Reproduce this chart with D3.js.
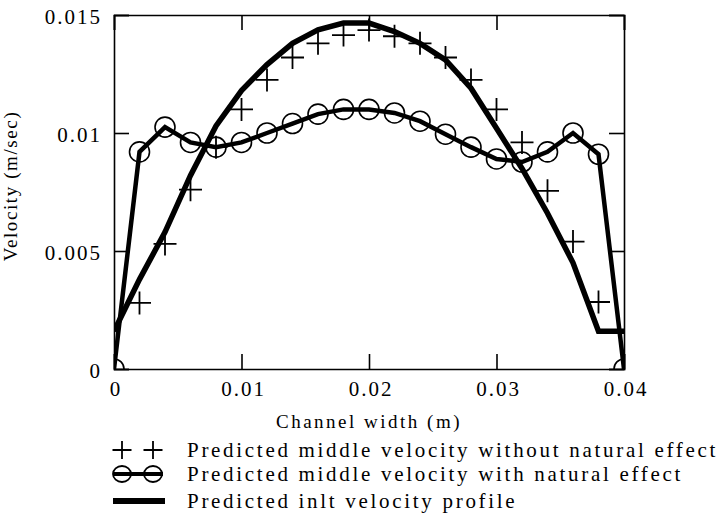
<!DOCTYPE html>
<html>
<head>
<meta charset="utf-8">
<script src="https://cdn.jsdelivr.net/npm/d3@7"></script>
</head>
<body style="margin:0">
<div class="plot"></div>
<script>
// channel width positions (m)
const channelX = [0, 0.002, 0.004, 0.006, 0.008, 0.010, 0.012, 0.014, 0.016, 0.018, 0.020,
    0.022, 0.024, 0.026, 0.028, 0.030, 0.032, 0.034, 0.036, 0.038, 0.040];
// predicted middle velocity without natural effect (+ markers)
const withoutNatural = [null, 0.0028, 0.0053, 0.0076, 0.0094, 0.0110, 0.01225, 0.0132, 0.0138, 0.01415, 0.01436,
    0.0141, 0.0138, 0.0132, 0.01225, 0.0110, 0.0096, 0.00755, 0.0054, 0.00284, null];
// predicted middle velocity with natural effect (circles)
const withNatural = [0, 0.0092, 0.01025, 0.0096, 0.0094, 0.0096, 0.0100, 0.0104, 0.0108, 0.0110, 0.0110,
    0.01085, 0.0105, 0.00995, 0.0094, 0.0089, 0.00877, 0.0092, 0.0100, 0.0091, 0];
// predicted inlet velocity profile (thick line)
const inletProfile = [0.0016, 0.0038, 0.0058, 0.0082, 0.0103, 0.0118, 0.0129, 0.0138, 0.01437, 0.01466, 0.01466,
    0.0143, 0.0138, 0.0131, 0.0119, 0.0102, 0.0085, 0.0066, 0.0045, 0.0016, 0.0016];

const xTicks = [0, 0.01, 0.02, 0.03, 0.04];
const xTickLabels = ["0", "0.01", "0.02", "0.03", "0.04"];
const yTicks = [0, 0.005, 0.01, 0.015];
const yTickLabels = ["0", "0.005", "0.01", "0.015"];
const legendLabels = [
    "Predicted middle velocity without natural effect",
    "Predicted middle velocity with natural effect",
    "Predicted inlt velocity profile"
];

const width = 724,
    height = 519,
    margin = { top: 15, left: 114 },
    innerWidth = 624 - margin.left,
    innerHeight = 369 - margin.top;

const root = d3.select(".plot").append("svg")
    .attr("width", width)
    .attr("height", height);

const svg = root.append("g")
    .attr("transform", "translate(" + margin.left + "," + margin.top + ")");

const xScale = d3.scaleLinear().domain([0, 0.04]).range([0, innerWidth]);
const yScale = d3.scaleLinear().domain([0, 0.015]).range([innerHeight, 0]);

svg.append("clipPath").attr("id", "clip")
    .append("rect").attr("width", innerWidth).attr("height", innerHeight);

const plot = svg.append("g").attr("clip-path", "url(#clip)");

const profileLine = d3.line()
    .x((d, i) => xScale(channelX[i]))
    .y(d => yScale(d));

// inlet profile
plot.append("path")
    .datum(inletProfile)
    .attr("d", profileLine)
    .attr("fill", "none")
    .attr("stroke", "#000")
    .attr("stroke-width", 5.5);

// with natural effect: line + circles
plot.append("path")
    .datum(withNatural)
    .attr("d", profileLine)
    .attr("fill", "none")
    .attr("stroke", "#000")
    .attr("stroke-width", 4.5);

plot.append("g").selectAll("circle")
    .data(withNatural)
    .enter().append("circle")
    .attr("cx", (d, i) => xScale(channelX[i]))
    .attr("cy", d => yScale(d))
    .attr("r", 10)
    .attr("fill", "none")
    .attr("stroke", "#000")
    .attr("stroke-width", 1.6);

// without natural effect: plus markers
const plusPts = withoutNatural.map((v, i) => [channelX[i], v]).filter(p => p[1] !== null);
plot.append("g").selectAll("path")
    .data(plusPts)
    .enter().append("path")
    .attr("d", p => {
        const cx = xScale(p[0]), cy = yScale(p[1]), a = 11.5;
        return "M" + (cx - a) + "," + cy + "H" + (cx + a) + "M" + cx + "," + (cy - a) + "V" + (cy + a);
    })
    .attr("stroke", "#000")
    .attr("stroke-width", 1.8);

// axes, ticks inward and mirrored on all four sides
const tickLen = 15;
const xAxis = d3.axisBottom(xScale).tickValues(xTicks).tickSize(-tickLen).tickFormat("");
const xAxisTop = d3.axisTop(xScale).tickValues(xTicks).tickSize(-tickLen).tickFormat("");
const yAxis = d3.axisLeft(yScale).tickValues(yTicks).tickSize(-tickLen).tickFormat("");
const yAxisRight = d3.axisRight(yScale).tickValues(yTicks).tickSize(-tickLen).tickFormat("");

svg.append("g").attr("transform", "translate(0," + innerHeight + ")").call(xAxis);
svg.append("g").call(xAxisTop);
svg.append("g").call(yAxis);
svg.append("g").attr("transform", "translate(" + innerWidth + ",0)").call(yAxisRight);

svg.selectAll(".domain").attr("stroke-width", 1.6).attr("stroke", "#000");
svg.selectAll(".tick line").attr("stroke-width", 1.6).attr("stroke", "#000");

function serifText(sel, size, spacing) {
    return sel.style("font-family", "Liberation Serif")
        .style("font-size", size + "px")
        .style("letter-spacing", spacing + "px")
        .style("fill", "#000");
}

// tick labels
serifText(svg.append("g").selectAll("text")
    .data(xTicks)
    .enter().append("text")
    .attr("x", d => xScale(d) + 2)
    .attr("y", innerHeight + 27)
    .attr("text-anchor", "middle")
    .text((d, i) => xTickLabels[i]), 21, 2);

serifText(svg.append("g").selectAll("text")
    .data(yTicks)
    .enter().append("text")
    .attr("x", -12)
    .attr("y", d => yScale(d) + 9)
    .attr("text-anchor", "end")
    .text((d, i) => yTickLabels[i]), 21, 2);

// axis titles
serifText(svg.append("text")
    .attr("x", innerWidth / 2)
    .attr("y", 428 - margin.top)
    .attr("text-anchor", "middle")
    .text("Channel width (m)"), 19, 2.5);

serifText(svg.append("text")
    .attr("transform", "translate(" + (17 - margin.left) + "," + (186 - margin.top) + ") rotate(-90)")
    .attr("text-anchor", "middle")
    .text("Velocity (m/sec)"), 19, 1.6);

// legend
const legend = root.append("g");
const rowY = [450, 474, 501];
const markX = [122, 153];

markX.forEach(mx => {
    legend.append("path")
        .attr("d", "M" + (mx - 9.5) + "," + rowY[0] + "H" + (mx + 9.5) + "M" + mx + "," + (rowY[0] - 9) + "V" + (rowY[0] + 9))
        .attr("stroke", "#000").attr("stroke-width", 1.8);
});

legend.append("line")
    .attr("x1", 113).attr("x2", 163)
    .attr("y1", rowY[1]).attr("y2", rowY[1])
    .attr("stroke", "#000").attr("stroke-width", 4);
markX.forEach(mx => {
    legend.append("ellipse")
        .attr("cx", mx).attr("cy", rowY[1])
        .attr("rx", 9).attr("ry", 8)
        .attr("fill", "none").attr("stroke", "#000").attr("stroke-width", 1.8);
});

legend.append("line")
    .attr("x1", 113).attr("x2", 165)
    .attr("y1", rowY[2]).attr("y2", rowY[2])
    .attr("stroke", "#000").attr("stroke-width", 6);

serifText(legend.selectAll("text.lab")
    .data(legendLabels)
    .enter().append("text")
    .attr("class", "lab")
    .attr("x", 187)
    .attr("y", (d, i) => rowY[i] + 7)
    .text(d => d), 21, 2.7);
</script>
</body>
</html>
